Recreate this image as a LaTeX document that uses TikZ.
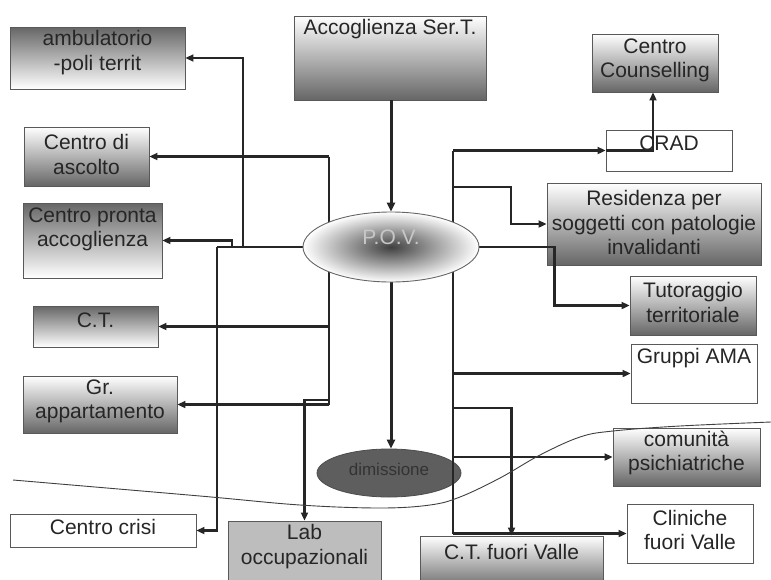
\documentclass[tikz,border=0pt]{standalone}
\usepackage{fontspec}
\setmainfont{Liberation Sans}
\usetikzlibrary{arrows.meta,shapes.geometric}
\pgfdeclarelayer{fg}
\pgfsetlayers{main,fg}
\begin{document}
\begin{tikzpicture}[x=1pt,y=-1pt,
  box/.style={draw=black!65, line width=0.9pt, rectangle, inner sep=0pt},
  boxW/.style={box, fill=white},
  boxD/.style={box, top color=white, bottom color=black!60},
  boxU/.style={box, top color=black!60, bottom color=white},
  boxG/.style={box, fill=black!26},
  lbl/.style={font=\fontsize{21}{24.5}\selectfont, align=center, text=black!85, inner sep=0pt},
  conn/.style={draw=black!85, line width=2.1pt},
  arr/.style={conn, -{Triangle[length=8pt,width=7pt]}},
  mainarr/.style={draw=black!85, line width=3pt, -{Triangle[length=9pt,width=8pt]}},
  wave/.style={draw=black!75, line width=0.9pt}
]
\useasboundingbox (0,0) rectangle (771,579);
\clip (0,0) rectangle (771,579);
\fill[white] (0,0) rectangle (771,579);

% left boxes
\node[boxU, minimum width=175pt, minimum height=62pt] (amb) at (97.5,58) {};
\node[lbl] (ambt) at (97.5,52.5) {ambulatorio\\-poli territ};
\node[boxD, minimum width=125pt, minimum height=59pt] (ascolto) at (86.5,156.5) {};
\node[lbl] (ascoltot) at (86.5,154.5) {Centro di\\ascolto};
\node[boxU, minimum width=139pt, minimum height=75pt] (pronta) at (92.5,240.5) {};
\node[lbl] (prontat) at (92.5,229.5) {Centro pronta\\accoglienza};
\node[boxU, minimum width=125pt, minimum height=41pt] (ct) at (95.5,326.5) {};
\node[lbl] (ctt) at (95.5,320) {C.T.};
\node[boxD, minimum width=154pt, minimum height=57pt] (grapp) at (100,404.5) {};
\node[lbl] (grappt) at (100,401.5) {Gr.\\appartamento};
\node[boxW, minimum width=186pt, minimum height=33pt] (crisi) at (103,530.5) {};
\node[lbl] (crisit) at (103,527) {Centro crisi};
\node[boxG, minimum width=153pt, minimum height=69pt] (lab) at (304.5,555.5) {};
\node[lbl] (labt) at (304.5,546.5) {Lab\\occupazionali};

% top / centre
\node[boxD, minimum width=192pt, minimum height=84pt] (acc) at (390,58) {};
\node[lbl] (acct) at (390,29) {Accoglienza Ser.T.};
\node[ellipse, fill=black!63, draw=black!70, line width=0.8pt, minimum width=144pt, minimum height=48pt, inner sep=0pt] (dim) at (389,473) {};
\node[lbl, font=\fontsize{17}{20}\selectfont, text=black!80] (dimt) at (389,469) {dimissione};

% right boxes
\node[boxD, minimum width=126pt, minimum height=58pt] (counsel) at (655,63) {};
\node[lbl] (counselt) at (655,60.5) {Centro\\Counselling};
\node[boxW, minimum width=126pt, minimum height=41pt] (crad) at (669,150.5) {};
\node[lbl] (cradt) at (669,143) {CRAD};
\node[boxD, minimum width=214pt, minimum height=82pt] (resid) at (654,224) {};
\node[lbl] (residt) at (654,222.5) {Residenza per\\soggetti con patologie\\invalidanti};
\node[boxD, minimum width=126pt, minimum height=59pt] (tutor) at (693,305.5) {};
\node[lbl] (tutort) at (693,302.5) {Tutoraggio\\territoriale};
\node[boxW, minimum width=126pt, minimum height=59pt] (ama) at (694,373.5) {};
\node[lbl] (amat) at (694,358) {Gruppi AMA};
\node[boxD, minimum width=147pt, minimum height=58pt] (comun) at (686.5,457) {};
\node[lbl] (comunt) at (686.5,453) {comunità\\psichiatriche};
\node[boxW, minimum width=126pt, minimum height=59pt] (clin) at (690,533.5) {};
\node[lbl] (clint) at (690,530) {Cliniche\\fuori Valle};
\node[boxD, minimum width=183pt, minimum height=54pt] (ctfv) at (511.5,563) {};
\node[lbl] (ctfvt) at (511.5,552) {C.T. fuori Valle};

% P.O.V. on top layer
\begin{pgfonlayer}{fg}
\node[ellipse, draw=black!60, line width=0.9pt, inner color=black!75, outer color=white, minimum width=176pt, minimum height=70pt, inner sep=0pt] (pov) at (391,247) {};
\node[lbl, text=black!22] (povt) at (391,237) {P.O.V.};
\end{pgfonlayer}

% junctions
\coordinate (jL) at (217,247);
\coordinate (jA) at (243,247);
\coordinate (jP) at (232,247);
\coordinate (tTop) at (329,156.5);
\coordinate (tBot) at (329,404.5);
\coordinate (jLab) at (329,400);
\coordinate (rTop) at (453,150.5);
\coordinate (rRes) at (453,187);
\coordinate (rCT) at (453,408);
\coordinate (rBot) at (453,533.5);
\coordinate (cC) at (653,150.5);

% connectors
\draw[mainarr] (pov.north |- acc.south) -- (pov.north);
\draw[mainarr] (pov.south) -- (pov.south |- dim.north);
\draw[conn] (pov.west) -- (jL);
\draw[arr] (jA) |- (amb.east);
\draw[arr] (jP) |- (pronta.east);
\draw[arr] (jL) |- (crisi.east);
\draw[conn] (tTop) -- (tBot);
\draw[arr] (tTop) -- (ascolto.east);
\draw[arr] (tTop |- ct.east) -- (ct.east);
\draw[arr] (tBot) -- (grapp.east);
\draw[arr] (jLab) -| (lab.north);
\draw[conn] (rTop) -- (rBot);
\draw[arr] (rTop) -- (crad.west);
\draw[arr] (crad.west) -- (cC) -- (cC |- counsel.south);
\draw[arr] (rRes) -- ++(58,0) |- (resid.west);
\draw[arr] (pov.east) -- ++(75,0) |- (tutor.west);
\draw[arr] (rTop |- ama.west) -- (ama.west);
\draw[arr] (rCT) -| (ctfv.north);
\draw[arr] (rTop |- comun.west) -- (comun.west);
\draw[arr] (rBot) -- (clin.west);

% wave line
\begin{pgfonlayer}{fg}
\draw[wave] plot[smooth, tension=0.6] coordinates {(13,480) (200,496) (300,505) (380,508) (430,505) (460,497) (500,478) (540,455) (580,437) (613,431) (680,426) (771,422)};
\end{pgfonlayer}
\end{tikzpicture}
\end{document}
